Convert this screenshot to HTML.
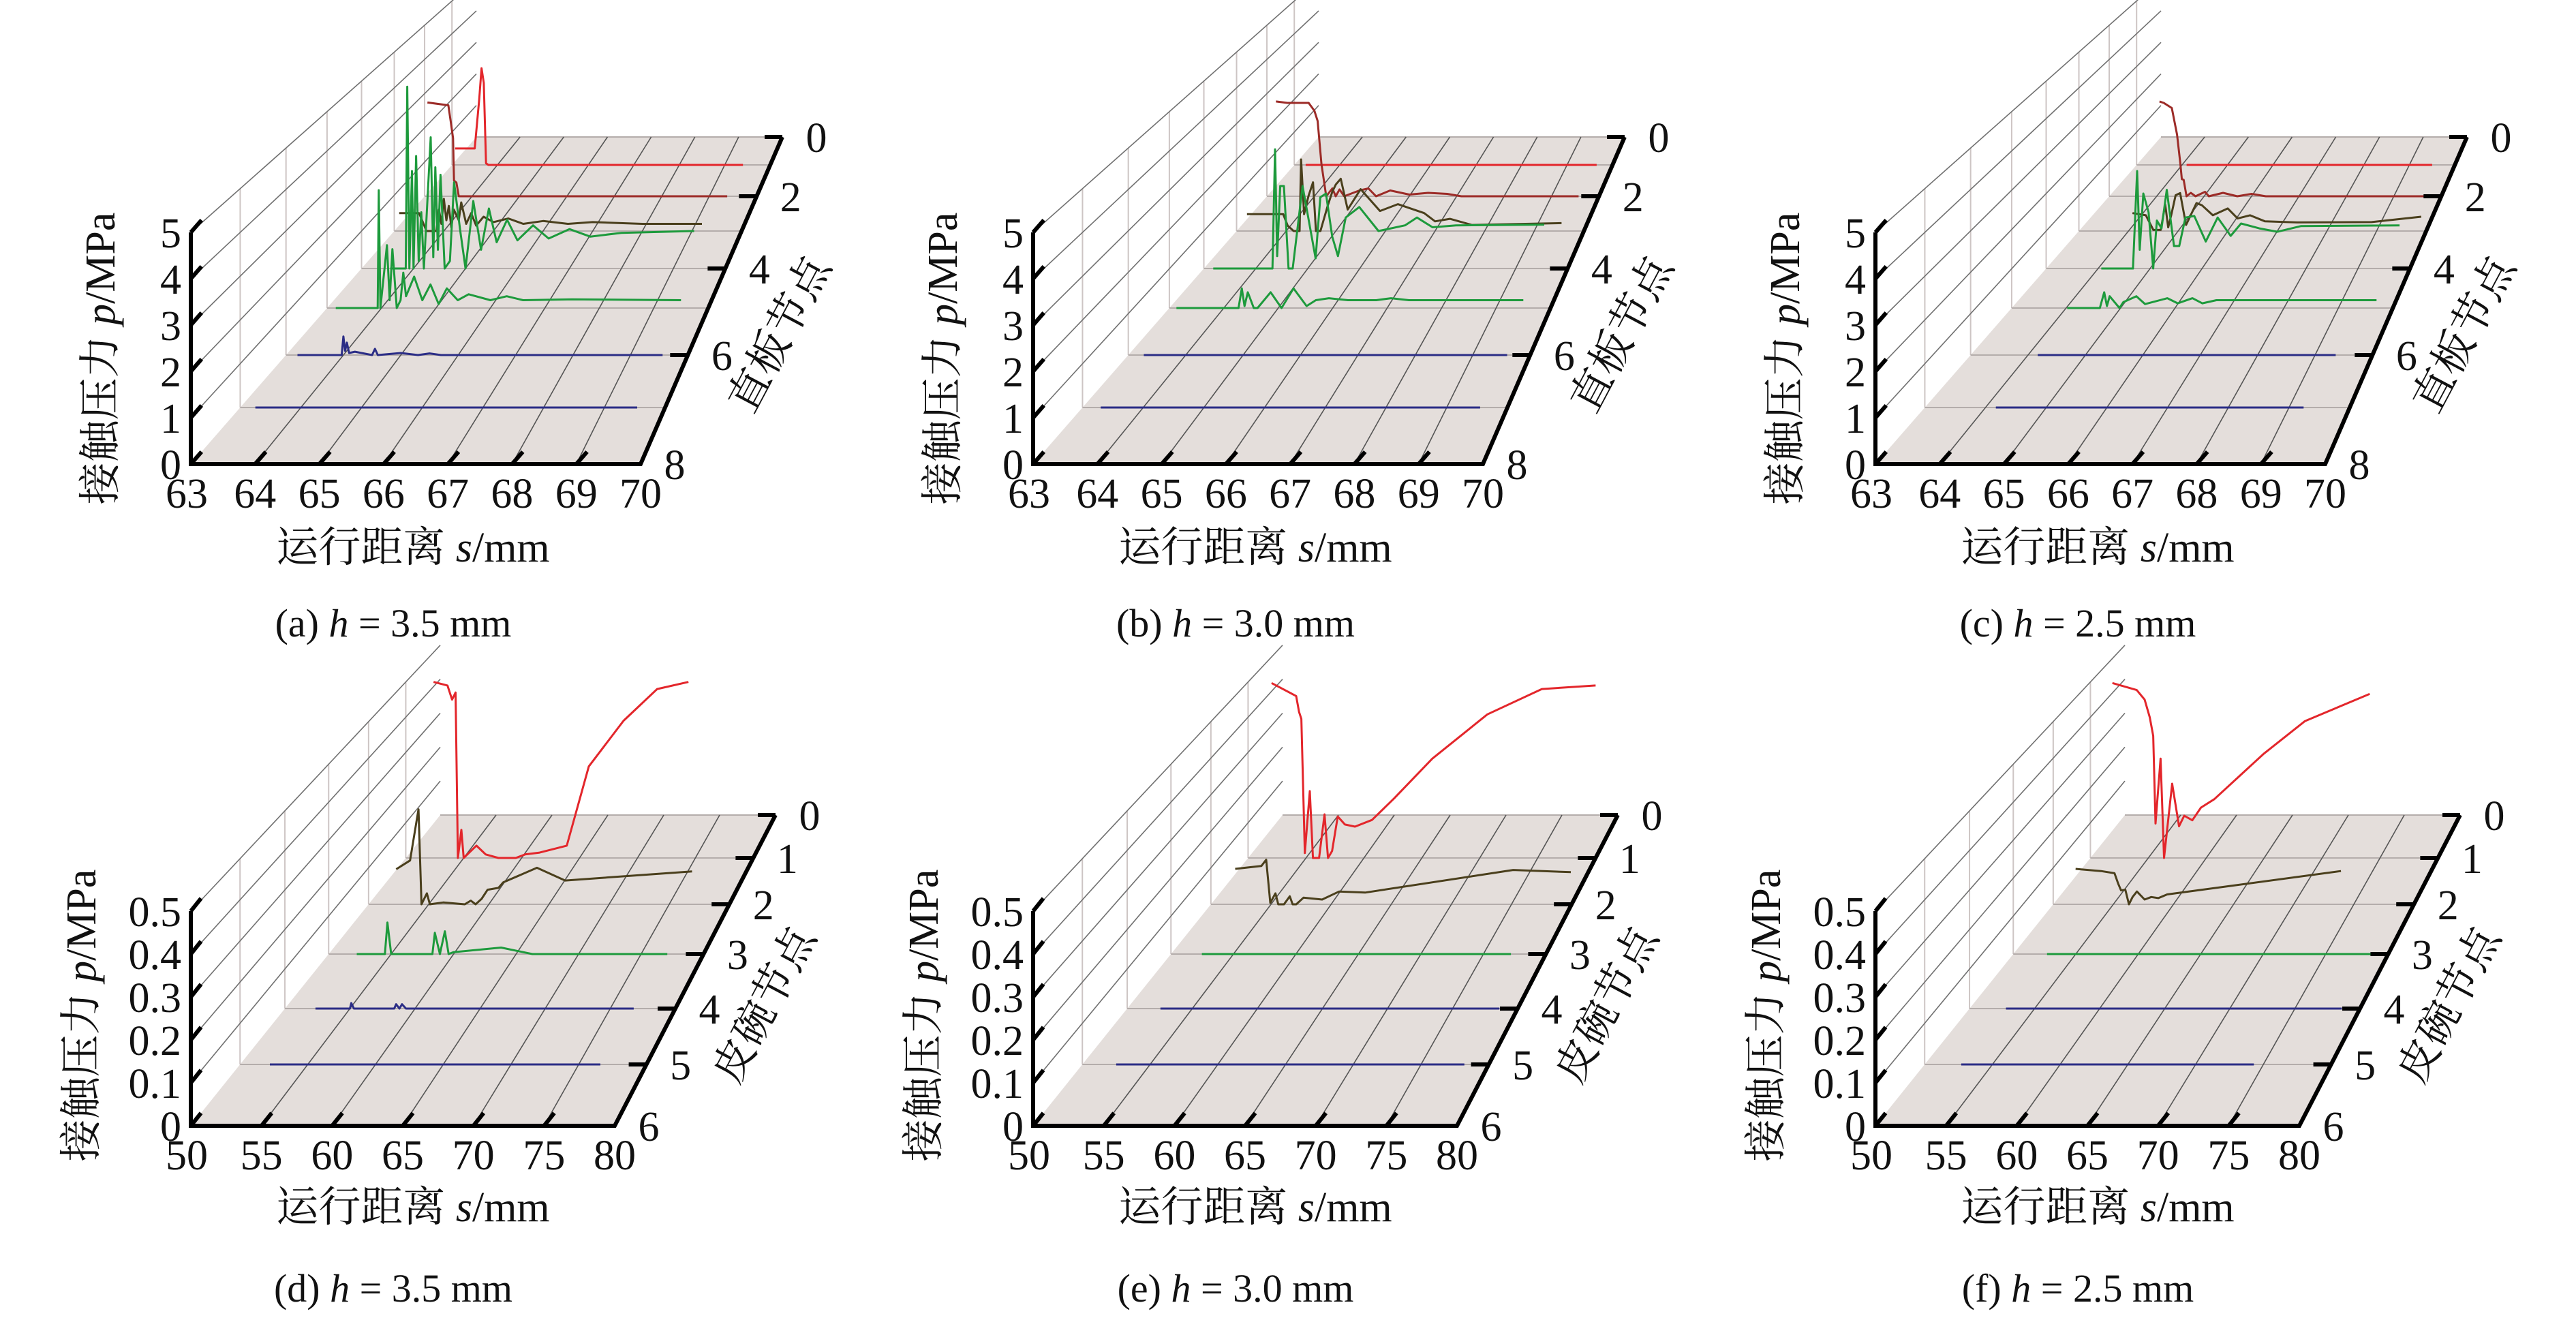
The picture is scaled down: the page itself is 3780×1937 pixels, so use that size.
<!DOCTYPE html>
<html><head><meta charset="utf-8">
<style>
html,body{margin:0;padding:0;background:#fff;}
svg{display:block;}
svg text{font-family:"Liberation Serif","Times New Roman","Noto Serif CJK SC","DejaVu Serif",serif;fill:#111;}
</style></head>
<body>
<svg id="s" xmlns="http://www.w3.org/2000/svg" width="3780" height="1937" viewBox="0 0 3780 1937">
<rect width="3780" height="1937" fill="#fff"/>
<g id="g" font-family="'Liberation Serif','Times New Roman','Noto Serif CJK SC',serif"></g>
</svg>
<script>
var NS="http://www.w3.org/2000/svg",G=document.getElementById('g');
var FF="'Liberation Serif','Times New Roman','Noto Serif CJK SC','DejaVu Serif',serif";
function el(t,a,txt){var e=document.createElementNS(NS,t);for(var k in a)e.setAttribute(k,a[k]);if(t=='text')e.setAttribute('font-family',FF);if(txt!==undefined)e.textContent=txt;G.appendChild(e);return e;}
var RED="#e3262b",DR="#9c2b27",BRN="#4a3f1c",GRN="#1d9a3c",BLU="#2b2d86";
var TOP={s0:63,s1:70,st:1,pm:5,pst:1,ys:[201,242,288,339,394,452,521,598,681],O:[280,681],FR:[940,681],BL:[699,201],BR:[1148,201],ps:68,lab:[0,2,4,6,8],pfmt:function(v){return String(Math.round(v));}};
var BOT={s0:50,s1:80,st:5,pm:0.5,pst:0.1,ys:[1196,1259,1327,1400,1480,1562,1652],O:[280,1652],FR:[902,1652],BL:[646,1196],BR:[1138,1196],ps:630,lab:[0,1,2,3,4,5,6],pfmt:function(v){var r=Math.round(v*10)/10;return r==0?"0":r.toFixed(1);}};
function proj(P,dx,s,p,k){var yk=P.ys[k];var f=(P.O[1]-yk)/(P.O[1]-P.BL[1]);var L=P.O[0]+f*(P.BL[0]-P.O[0]);var R=P.FR[0]+f*(P.BR[0]-P.FR[0]);var w=R-L,Wf=P.FR[0]-P.O[0];return [dx+L+(s-P.s0)/(P.s1-P.s0)*w, yk-p*P.ps*w/Wf];}
function line(a,b,st,sw){el('line',{x1:a[0],y1:a[1],x2:b[0],y2:b[1],stroke:st,'stroke-width':sw});}
function panel(P,dx,curves,dtitle,cap,titles){
 var N=P.ys.length-1;
 var o=[dx+P.O[0],P.O[1]],fr=[dx+P.FR[0],P.FR[1]],bl=[dx+P.BL[0],P.BL[1]],br=[dx+P.BR[0],P.BR[1]];
 el('polygon',{points:[o,fr,br,bl].map(function(q){return q.join(',');}).join(' '),fill:'#e4dedb'});
 for(var k=1;k<N;k++){line(proj(P,dx,P.s0,0,k),proj(P,dx,P.s0,P.pm,k),'#cdc5c4',2);}
 for(var k=0;k<N;k++){line(proj(P,dx,P.s0,0,k),proj(P,dx,P.s1,0,k),'#b4adab',2);}
 var ns=Math.round((P.s1-P.s0)/P.st);
 for(var i=1;i<=ns;i++){var s=P.s0+i*P.st;line(proj(P,dx,s,0,N),proj(P,dx,s,0,0),'#555',1.6);}
 var np=Math.round(P.pm/P.pst);
 for(var i=1;i<=np;i++){var p=i*P.pst;line(proj(P,dx,P.s0,p,N),proj(P,dx,P.s0,p,0),'#707070',1.6);}
 curves.forEach(function(c){var pts=c.d.map(function(q){return proj(P,dx,q[0],q[1],c.k).map(function(v){return v.toFixed(1);}).join(',');}).join(' ');
  el('polyline',{points:pts,fill:'none',stroke:c.c,'stroke-width':3,'stroke-linejoin':'round'});});
 var ytop=proj(P,dx,P.s0,P.pm,N);
 el('polyline',{points:ytop.join(',')+' '+o.join(',')+' '+fr.join(',')+' '+br.join(','),fill:'none',stroke:'#000','stroke-width':6,'stroke-linejoin':'miter'});
 var dvx=(P.BL[0]-P.O[0]),dvy=(P.BL[1]-P.O[1]),dl=Math.sqrt(dvx*dvx+dvy*dvy);dvx/=dl;dvy/=dl;
 for(var i=0;i<=np;i++){var a=proj(P,dx,P.s0,i*P.pst,N);line(a,[a[0]+dvx*24,a[1]+dvy*24],'#000',6);
  el('text',{x:a[0]-14,y:a[1]+22,'font-size':62,'text-anchor':'end'},P.pfmt(i*P.pst));}
 for(var i=0;i<=ns;i++){var a=proj(P,dx,P.s0+i*P.st,0,N);if(i>0&&i<ns)line(a,[a[0]+dvx*24,a[1]+dvy*24],'#000',6);
  el('text',{x:a[0]+(i==0?-6:0),y:a[1]+64,'font-size':62,'text-anchor':'middle'},String(P.s0+i*P.st));}
 P.lab.forEach(function(k){var a=proj(P,dx,P.s1,0,k);line([a[0]-26,a[1]],a,'#000',6);
  el('text',{x:a[0]+50,y:a[1]+22,'font-size':62,'text-anchor':'middle'},String(k));});
 var t=el('text',{x:0,y:0,'font-size':62,'text-anchor':'middle',transform:'translate('+(dx+titles.yt[0])+','+titles.yt[1]+') rotate(-90)'});
 t.innerHTML='接触压力 <tspan font-style="italic">p</tspan>/MPa';
 var t2=el('text',{x:dx+606,y:titles.xt,'font-size':62,'text-anchor':'middle'});
 t2.innerHTML='运行距离 <tspan font-style="italic">s</tspan>/mm';
 el('text',{x:0,y:0,'font-size':62,'text-anchor':'middle',transform:'translate('+(dx+titles.dt[0])+','+titles.dt[1]+') rotate(-62)'},dtitle);
 var t3=el('text',{x:dx+577,y:titles.cp,'font-size':58,'text-anchor':'middle'});
 t3.innerHTML=cap[0]+' <tspan font-style="italic">h</tspan> = '+cap[1]+' mm';
}
function flat(k,c,a,b){return {k:k,c:c,d:[[a,0],[b,0]]};}
var Ta={yt:[168,526],xt:824,dt:[1162,500],cp:934};
var Tb={yt:[140,1490],xt:1792,dt:[1140,1484],cp:1910};
var A=[
{k:1,c:RED,d:[[63.07,.5],[63.5,.5],[63.6,2],[63.65,2.95],[63.7,2.5],[63.75,.05],[63.8,0],[69.4,0]]},
{k:2,c:DR,d:[[63.06,2.74],[63.5,2.66],[63.55,2.2],[63.6,1.7],[63.62,.46],[63.67,.4],[63.72,0],[69.38,0]]},
{k:3,c:BRN,d:[[63.1,.5],[63.5,.5],[63.65,0],[63.85,0],[63.9,.6],[63.95,.2],[64,.9],[64.05,.3],[64.1,.7],[64.15,.1],[64.2,.6],[64.3,.3],[64.35,.8],[64.45,.2],[64.55,.5],[64.65,.15],[64.8,.4],[65,.25],[65.3,.35],[65.6,.2],[66,.28],[66.5,.2],[67,.25],[68,.2],[69.2,.2]]},
{k:4,c:GRN,d:[[63.55,0],[63.85,0],[63.88,4.85],[63.92,0],[63.97,2.6],[64,0],[64.05,3],[64.1,.2],[64.15,1.5],[64.2,0],[64.33,3.5],[64.38,.3],[64.42,2.7],[64.47,.5],[64.52,2.5],[64.6,0],[64.7,.2],[64.78,2.3],[64.9,1],[65,0],[65.15,1.8],[65.3,.5],[65.45,1.6],[65.6,.7],[65.8,1.3],[66,.75],[66.3,1.15],[66.6,.8],[67,1.05],[67.4,.85],[68,.95],[69.4,1]]},
{k:5,c:GRN,d:[[63.16,0],[63.93,0],[63.95,3],[63.98,0],[64.1,1.6],[64.15,.2],[64.2,1.5],[64.28,0],[64.35,.2],[64.4,.9],[64.45,.3],[64.6,.8],[64.75,.2],[64.9,.6],[65.05,.1],[65.2,.5],[65.4,.2],[65.6,.35],[66,.2],[66.3,.3],[66.6,.2],[67.5,.22],[69.5,.2]]},
{k:6,c:BLU,d:[[63.2,0],[63.97,0],[64,.45],[64.03,.1],[64.06,.3],[64.1,.05],[64.2,.08],[64.5,0],[64.55,.15],[64.6,0],[65,.05],[65.3,0],[65.5,.04],[65.7,0],[69.56,0]]},
flat(7,BLU,63.25,69.54)];
var B=[
flat(1,RED,63.25,69.65),
{k:2,c:DR,d:[[63.19,2.77],[63.43,2.73],[63.88,2.73],[64,2.5],[64.07,2.2],[64.15,.94],[64.25,0],[64.38,.23],[64.45,0],[64.53,.2],[64.63,0],[64.95,.17],[65.14,.23],[65.3,0],[65.6,.17],[66,.05],[66.4,.1],[66.8,.07],[67.1,0],[69.57,0]]},
{k:3,c:BRN,d:[[63.21,.47],[63.94,.47],[64.03,.15],[64.15,0],[64.27,0],[64.3,2],[64.36,.47],[64.45,.98],[64.54,1.36],[64.6,0],[64.69,0],[64.84,.72],[64.93,1.1],[65,1.3],[65.1,1.46],[65.24,.6],[65.5,1.17],[65.89,.56],[66.25,.75],[66.78,.5],[67,.27],[67.3,.34],[67.74,.17],[69.55,.22]]},
{k:4,c:GRN,d:[[63.18,0],[64.32,0],[64.37,3.18],[64.41,.33],[64.47,2.2],[64.54,2.2],[64.63,0],[64.71,0],[64.9,2.2],[65.15,.27],[65.24,1.9],[65.35,2],[65.47,.85],[65.58,.33],[65.73,1.36],[65.99,1.64],[66.36,1],[66.87,1.15],[67.1,1.36],[67.4,1.1],[67.85,1.15],[69.55,1.17]]},
{k:5,c:GRN,d:[[63.13,0],[64.27,0],[64.33,.5],[64.38,.05],[64.44,.4],[64.55,0],[64.62,0],[64.86,.4],[65.06,0],[65.28,.5],[65.52,.05],[65.69,.2],[65.93,.25],[66.28,.2],[66.8,.2],[67.07,.25],[67.4,.2],[69.5,.2]]},
flat(6,BLU,63.27,69.6),flat(7,BLU,63.3,69.55)];
var C=[
flat(1,RED,64.1,69.5),
{k:2,c:DR,d:[[64.06,2.77],[64.15,2.73],[64.32,2.58],[64.43,1.8],[64.5,.94],[64.53,.5],[64.57,.48],[64.63,0],[64.72,.1],[64.82,0],[65.02,.13],[65.1,0],[65.4,.1],[65.7,0],[66,.07],[66.3,0],[66.7,0],[69.9,0]]},
{k:3,c:BRN,d:[[64.08,.5],[64.35,.44],[64.5,.03],[64.65,.03],[64.74,.74],[64.8,.1],[64.86,.44],[64.95,1],[65.04,1.06],[65.16,.17],[65.37,.78],[65.48,.72],[65.7,.44],[66,.63],[66.2,.35],[66.45,.44],[66.75,.27],[67.4,.24],[68.9,.25],[69.9,.4]]},
{k:4,c:GRN,d:[[64.06,0],[64.67,0],[64.75,2.6],[64.8,.5],[64.87,2],[64.97,1.5],[65.06,0],[65.13,1.28],[65.22,1.07],[65.32,2.1],[65.46,.6],[65.56,.6],[65.68,1.36],[65.85,1.4],[66.07,.72],[66.3,1.36],[66.55,.87],[66.75,1.2],[67.1,1.07],[67.45,.98],[67.9,1.13],[69.8,1.15]]},
{k:5,c:GRN,d:[[64.02,0],[64.62,0],[64.7,.4],[64.75,.05],[64.8,.3],[64.98,0],[65.05,.15],[65.29,.3],[65.45,.1],[65.86,.25],[66.05,.12],[66.32,.25],[66.5,.12],[66.76,.2],[69.7,.2]]},
flat(6,BLU,64.17,69.36),flat(7,BLU,64.17,69.24)];
var D=[
{k:1,c:RED,d:[[52.4,.5],[53.6,.49],[54,.45],[54.3,.47],[54.5,0],[54.8,.08],[55,0],[56.1,.035],[56.9,.01],[58,0],[59.5,0],[60.3,.01],[61.5,.015],[63.9,.035],[65.8,.26],[68.8,.39],[71.7,.48],[74.4,.5]]},
{k:2,c:BRN,d:[[52.3,.096],[53.45,.12],[54.15,.26],[54.4,0],[54.85,.03],[55.1,0],[56.2,.005],[58,0],[58.5,.01],[58.9,0],[59.4,.015],[59.9,.04],[60.8,.045],[61.2,.06],[64,.1],[66.35,.065],[76.9,.09]]},
{k:3,c:GRN,d:[[52.25,0],[54.5,0],[54.7,.083],[55,0],[58.3,0],[58.5,.056],[58.9,0],[59.3,.06],[59.6,0],[60,.005],[63.8,.017],[66.3,0],[77.1,0]]},
{k:4,c:BLU,d:[[52.35,0],[55,0],[55.1,.014],[55.3,0],[58.4,0],[58.55,.011],[58.8,0],[59,.011],[59.3,0],[76.8,0]]},
flat(5,BLU,52.2,76.6)];
var E=[
{k:1,c:RED,d:[[52.03,.497],[54.15,.46],[54.4,.415],[54.6,.395],[54.9,.014],[55.33,.19],[55.6,0],[56.13,0],[56.6,.124],[56.9,0],[57.25,.02],[57.74,.118],[58.36,.095],[59.23,.089],[60.7,.108],[62.6,.169],[65.9,.282],[70.65,.408],[75.36,.48],[80,.49]]},
{k:2,c:BRN,d:[[52.02,.097],[54.2,.105],[54.6,.122],[54.94,.004],[55.37,.03],[55.6,0],[56.08,0],[56.56,.022],[56.8,0],[57.1,0],[57.7,.018],[59.25,.013],[60.67,.035],[62.83,.032],[75.14,.094],[79.93,.088]]},
flat(3,GRN,52.47,77.2),flat(4,BLU,52.55,78.6),flat(5,BLU,52.5,78.2)];
var F=[
{k:1,c:RED,d:[[51.9,.497],[54,.477],[54.68,.45],[55.12,.4],[55.42,.347],[55.62,.098],[56.06,.282],[56.36,0],[57.06,.211],[57.65,.09],[58.1,.12],[58.8,.107],[59.54,.143],[60.7,.167],[64.93,.295],[68.53,.389],[74.11,.466]]},
{k:2,c:BRN,d:[[51.86,.097],[53.97,.091],[55.1,.085],[55.4,.057],[55.64,.038],[56,.04],[56.3,0],[56.6,.02],[56.96,.035],[57.6,.013],[58.15,.02],[58.75,.017],[59.47,.027],[73.93,.091]]},
flat(3,GRN,52.7,79.4),flat(4,BLU,52.8,78.6),flat(5,BLU,52.7,74.3)];
panel(TOP,0,A,'直板节点',['(a)','3.5'],Ta);
panel(TOP,1236,B,'直板节点',['(b)','3.0'],Ta);
panel(TOP,2472,C,'直板节点',['(c)','2.5'],Ta);
panel(BOT,0,D,'皮碗节点',['(d)','3.5'],Tb);
panel(BOT,1236,E,'皮碗节点',['(e)','3.0'],Tb);
panel(BOT,2472,F,'皮碗节点',['(f)','2.5'],Tb);
</script>
</body></html>
